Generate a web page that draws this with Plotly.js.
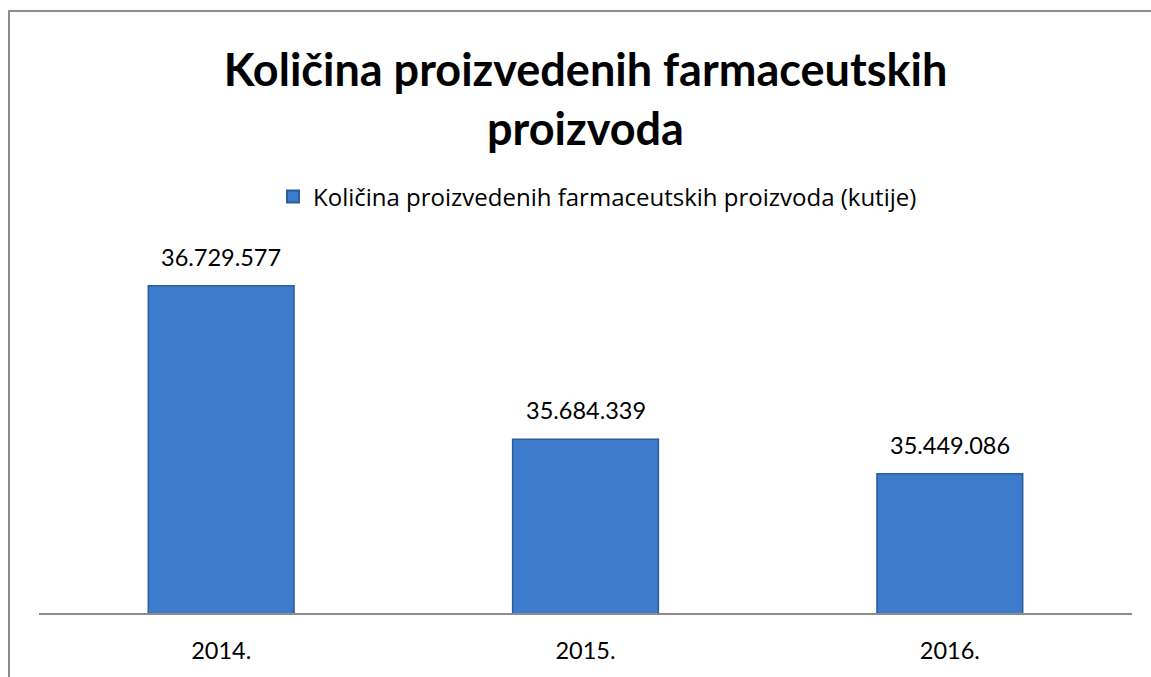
<!DOCTYPE html>
<html>
<head>
<meta charset="utf-8">
<script src="https://cdn.plot.ly/plotly-3.0.1.min.js"></script>
<style>html,body{margin:0;padding:0;background:#fff;}#chart{width:1151px;height:677px;}</style>
</head>
<body>
<div id="chart"></div>
<script>
const categories = ['2014.', '2015.', '2016.'];
const values = [36729577, 35684339, 35449086];
const seriesName = 'Količina proizvedenih farmaceutskih proizvoda (kutije)';
const chartTitle = 'Količina proizvedenih farmaceutskih<br>proizvoda';

const FONT = 'Lato, "Open Sans", sans-serif';
const LEGFONT = '"Open Sans", Lato, sans-serif';

const trace = {
  type: 'bar',
  x: categories,
  y: values,
  name: seriesName,
  showlegend: true,
  marker: {color: '#3d7bcc', line: {color: '#2b5c9c', width: 1.5}},
  hoverinfo: 'none'
};

const annotations = categories.map((c, i) => ({
  x: i, y: values[i], xref: 'x', yref: 'y',
  text: values[i].toLocaleString('de-DE'),
  showarrow: false, yanchor: 'bottom', yshift: 13,
  font: {family: FONT, size: 23.5, color: '#000'}
}));

const layout = {
  width: 1151, height: 677,
  margin: {l: 39, r: 19, t: 246, b: 64},
  paper_bgcolor: '#fff', plot_bgcolor: '#fff',
  separators: ',.',
  title: {
    text: chartTitle,
    font: {family: FONT, size: 45, color: '#000', weight: 'bold'},
    x: 0.5, xanchor: 'center', xref: 'paper',
    y: 1 - 86/677, yanchor: 'middle', yref: 'container'
  },
  showlegend: true,
  legend: {
    orientation: 'h', x: 0.511, xanchor: 'center', y: (613-197)/367, yanchor: 'middle',
    font: {family: LEGFONT, size: 24, color: '#000'},
    itemsizing: 'constant', itemwidth: 30
  },
  bargap: 0.6,
  xaxis: {
    type: 'category', range: [-0.5, 2.5],
    showline: true, linecolor: '#8c8c8c', linewidth: 2,
    ticks: '', showgrid: false, zeroline: false,
    tickfont: {family: FONT, size: 23.5, color: '#000'},
    ticklabelstandoff: 16
  },
  yaxis: {
    range: [34500000, 37000000], visible: false, showgrid: false, zeroline: false, fixedrange: true
  },
  annotations: annotations,
  shapes: [{
    type: 'path', xref: 'paper', yref: 'paper',
    path: 'M ' + (-30/1093) + ' ' + (-64/367) + ' L ' + (-30/1093) + ' ' + (602/367) + ' L ' + (1112/1093) + ' ' + (602/367),
    line: {color: '#8c8c8c', width: 2}
  }]
};

Plotly.newPlot('chart', [trace], layout, {displayModeBar: false, staticPlot: true});
</script>
</body>
</html>
